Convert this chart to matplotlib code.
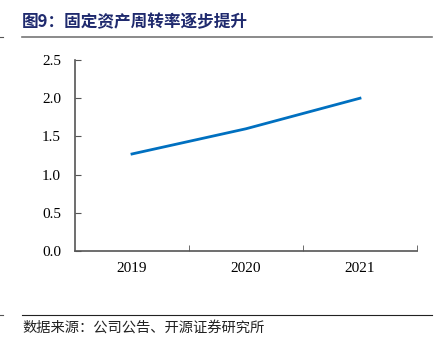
import matplotlib.pyplot as plt
from matplotlib.lines import Line2D

years = ["2019", "2020", "2021"]
turnover = [1.27, 1.60, 2.00]
yticks = [0.0, 0.5, 1.0, 1.5, 2.0, 2.5]

title = "图9：固定资产周转率逐步提升"
source = "数据来源：公司公告、开源证券研究所"

cjk = ["Noto Sans CJK SC", "DejaVu Sans"]
serif = ["Liberation Serif", "DejaVu Serif"]

fig = plt.figure(figsize=(4.43, 3.47), dpi=100)
W, H = 443, 347

ax = fig.add_axes([75 / W, 1 - 251 / H, (417 - 75) / W, (251 - 60) / H])
x = list(range(len(years)))
ax.plot(x, turnover, color="#0070C0", linewidth=2.0)

ax.set_xlim(-0.5, len(years) - 0.5)
ax.set_ylim(0, 2.5)
ax.set_yticks(yticks)
ax.set_yticklabels([f"{v:.1f}" for v in yticks], family=serif, fontsize=11)
ax.set_xticks(x)
ax.set_xticklabels(years, family=serif, fontsize=11)
ax.tick_params(axis="x", length=0, pad=8)
ax.tick_params(axis="y", direction="in", length=4, color="#555555", pad=10)
# category boundary ticks on the x axis
ax.set_xticks([i + 0.5 for i in x], minor=True)
ax.tick_params(axis="x", which="minor", direction="in", length=4, color="#555555")

for side in ["top", "right"]:
    ax.spines[side].set_visible(False)
for side in ["left", "bottom"]:
    ax.spines[side].set_color("#555555")
    ax.spines[side].set_linewidth(1.2)

fig.text(22 / W, 1 - 22 / H, title, family=cjk, fontsize=12, fontweight="bold",
         color="#1F2A6E", va="center", ha="left")
fig.add_artist(Line2D([22 / W, 432 / W], [1 - 37 / H, 1 - 37 / H],
                      color="#777777", linewidth=1.2))
fig.add_artist(Line2D([22 / W, 432 / W], [1 - 315 / H, 1 - 315 / H],
                      color="#222222", linewidth=0.8))
# small marks at the left margin
for yy in (37, 315):
    fig.add_artist(Line2D([0, 3 / W], [1 - yy / H, 1 - yy / H],
                          color="#555555", linewidth=0.8))
fig.text(22 / W, 1 - 328 / H, source, family=cjk, fontsize=10.3,
         color="#222222", va="center", ha="left")

fig.savefig("out.png", dpi=100)
